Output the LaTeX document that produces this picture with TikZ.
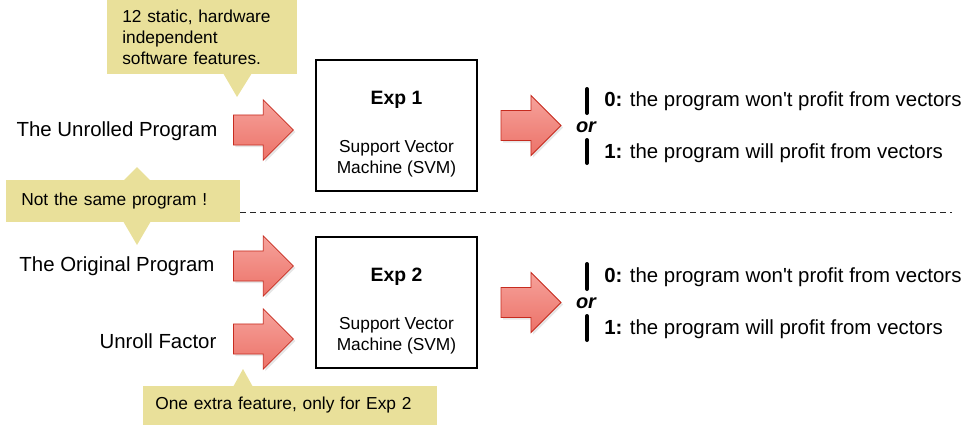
\documentclass[tikz,border=0pt]{standalone}
\usepackage{fontspec}
\setmainfont{Liberation Sans}[Ligatures=TeXOff]
\usepackage{xcolor}
\usepackage{tikz}
\usetikzlibrary{shapes.arrows, positioning, calc, shadows}
\definecolor{SV_NOTE}{HTML}{E9E09A}
\definecolor{SV_RED}{HTML}{EC7268}
\definecolor{SV_PINK}{HTML}{F6A29B}
\definecolor{SV_EDGE}{HTML}{C62B1F}
\tikzset{
  lbl/.style={
    inner sep=0pt, font=\fontsize{15.3}{18}\selectfont},
  expbox/.style={
    rectangle, draw=black, line width=0.9pt,
    minimum width=120.75pt, minimum height=98.25pt, fill=white},
  exptitle/.style={
    inner sep=0pt, font=\fontsize{14.5}{17}\selectfont\bfseries},
  svmtext/.style={
    inner sep=0pt, align=center, font=\fontsize{13}{15.5}\selectfont},
  fatarr/.style={
    single arrow, single arrow head extend=11.25pt,
    minimum height=45pt, minimum width=45pt,
    inner ysep=11pt, inner xsep=0pt,
    top color=SV_PINK, bottom color=SV_RED, draw=SV_EDGE, line width=0.6pt,
    drop shadow={opacity=0.2, shadow xshift=1.5pt, shadow yshift=-1.5pt}},
  note/.style={
    rectangle, fill=SV_NOTE, align=left,
    font=\fontsize{13}{15.75}\selectfont},
  bar/.style={line width=3pt, line cap=round},
  outtext/.style={
    anchor=west, inner sep=0pt, font=\fontsize{15.3}{18}\selectfont},
  ortext/.style={
    inner sep=0pt, font=\fontsize{15}{18}\selectfont\bfseries\itshape},
  sepline/.style={black!85, line width=0.75pt, dash pattern=on 4.5pt off 3pt},
}

\begin{document}
\begin{tikzpicture}[x=0.75pt, y=-0.75pt]

  \useasboundingbox (0,0) rectangle (965,425);

  % upper experiment
  \node[lbl] (unrolled) at (117,131) {The Unrolled Program};
  \node[fatarr, anchor=west] (a1) at (233,130) {};
  \node[expbox] (exp1) at (396.5,125.5) {};
  \node[exptitle] (t1) at ($(exp1.north)+(0,40)$) {Exp 1};
  \node[svmtext] (s1) at ($(exp1.north)+(0,99.5)$) {Support Vector\\Machine (SVM)};
  \node[fatarr, right=17.25pt of exp1] (r1) {};

  \node[ortext] (or1) at (586,127) {or};
  \draw[bar] (587,89) -- (587,113);
  \draw[bar] (587,140) -- (587,163);
  \node[outtext] (zero1) at (604,101) {\textbf{0:} the program won't profit from vectors};
  \node[outtext] (one1) at (604,153) {\textbf{1:} the program will profit from vectors};

  % separator
  \draw[sepline] (240,212) -- (952,212);

  % lower experiment
  \node[lbl] (orig) at (117,266) {The Original Program};
  \node[lbl] (factor) at (158,341) {Unroll Factor};
  \node[fatarr, anchor=west] (a2) at (233,266) {};
  \node[fatarr, anchor=west] (a3) at (233,339) {};
  \node[expbox] (exp2) at (396.5,302.5) {};
  \node[exptitle] (t2) at ($(exp2.north)+(0,40)$) {Exp 2};
  \node[svmtext] (s2) at ($(exp2.north)+(0,99.5)$) {Support Vector\\Machine (SVM)};
  \node[fatarr, right=17.25pt of exp2] (r2) {};

  \node[ortext] (or2) at (586,303) {or};
  \draw[bar] (587,264) -- (587,289);
  \draw[bar] (587,316) -- (587,340);
  \node[outtext] (zero2) at (604,277) {\textbf{0:} the program won't profit from vectors};
  \node[outtext] (one2) at (604,329) {\textbf{1:} the program will profit from vectors};

  % notes
  \node[note, anchor=north west, inner xsep=11.25pt, text width=120pt,
        minimum height=55.5pt] (note1) at (107,0)
    {12 static, hardware\\independent\\software features.};
  \fill[SV_NOTE] (223,73) -- (237,97) -- (252,73) -- cycle;

  \node[note, anchor=west, inner xsep=11.25pt, text width=153pt,
        minimum height=31.5pt] (note2) at (6,201)
    {Not the same program !};
  \fill[SV_NOTE] (123,181) -- (137,167) -- (151,181) -- cycle;
  \fill[SV_NOTE] (123,221) -- (137,245) -- (151,221) -- cycle;

  \node[note, anchor=south west, inner xsep=9pt, text width=202.5pt,
        minimum height=29.25pt] (note3) at (143,425)
    {One extra feature, only for Exp 2};
  \fill[SV_NOTE] (233,387) -- (243,369) -- (253,387) -- cycle;

\end{tikzpicture}
\end{document}
